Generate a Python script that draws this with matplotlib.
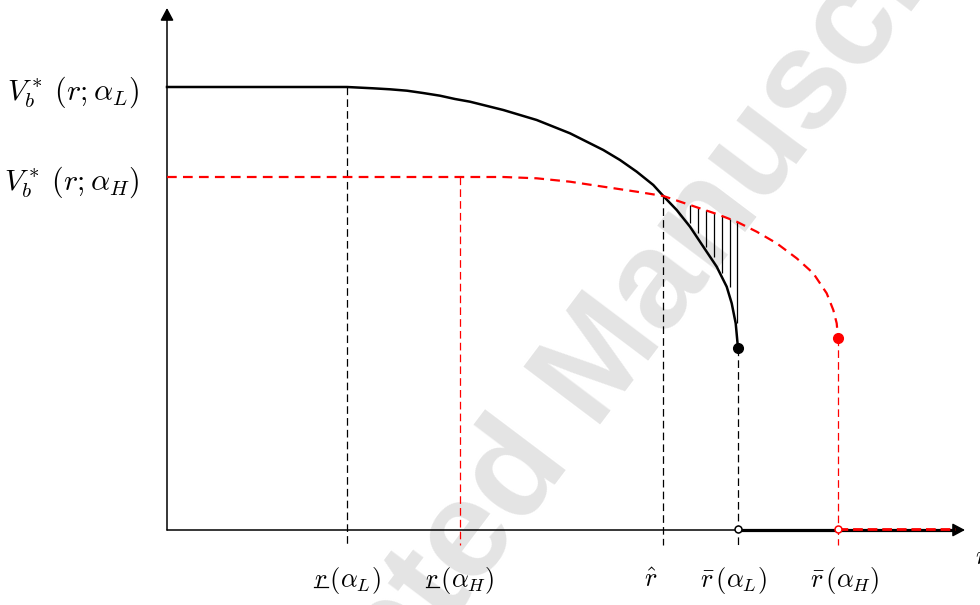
import matplotlib
matplotlib.use("Agg")
import matplotlib.pyplot as plt
from matplotlib.lines import Line2D
import numpy as np

plt.rcParams['mathtext.fontset'] = 'cm'
plt.rcParams['lines.scale_dashes'] = False

# ---- data ----
# V_b^*(r; alpha_L): solid black curve
low_x = [0.00, 1.80, 2.06, 2.23, 2.40, 2.56, 2.73, 2.88, 3.03, 3.363, 3.697, 4.03,
         4.363, 4.53, 4.697, 4.863, 4.963, 5.097, 5.23, 5.363, 5.497, 5.597, 5.647,
         5.687, 5.707, 5.71]
low_y = [4.43, 4.43, 4.417, 4.407, 4.393, 4.37, 4.343, 4.31, 4.283, 4.20, 4.10, 3.967,
         3.80, 3.70, 3.583, 3.45, 3.34, 3.20, 3.033, 2.833, 2.633, 2.433, 2.267,
         2.067, 1.85, 1.82]
# V_b^*(r; alpha_H): dashed red curve
high_x = [0.00, 2.93, 3.363, 3.697, 4.03, 4.363, 4.697, 4.963, 5.23, 5.497, 5.697,
          5.897, 6.097, 6.297, 6.463, 6.597, 6.663, 6.697, 6.71]
high_y = [3.53, 3.53, 3.53, 3.517, 3.483, 3.433, 3.383, 3.34, 3.25, 3.16, 3.083,
          2.983, 2.867, 2.717, 2.567, 2.367, 2.20, 2.067, 1.92]

r_low_L = 1.80
r_low_H = 2.93
r_hat = 4.963
r_bar_L = 5.71
r_bar_H = 6.71
V_L = 4.43
V_H = 3.53
V_cross = 3.34
V_end_L = 1.82
V_end_H = 1.92
x_axis_end = 7.98
y_axis_end = 5.22

hatch_x = [5.23, 5.307, 5.387, 5.467, 5.547, 5.627, 5.697]
hatch_bottom = [3.067, 2.967, 2.833, 2.733, 2.567, 2.433, 2.07]

tick_labels = [r'$r\,(\alpha_L)$', r'$r\,(\alpha_H)$',
               r'$\hat{r}$', r'$\bar{r}\,(\alpha_L)$', r'$\bar{r}\,(\alpha_H)$']
tick_underlined = [True, True, False, False, False]
tick_pos = [r_low_L, r_low_H, r_hat, r_bar_L, r_bar_H]
tick_offsets = [0, 0, -9.4, -3.6, 5]
y_labels = [r'$V_b^*\;(r;\alpha_L)$', r'$V_b^*\;(r;\alpha_H)$']
y_pos = [V_L, V_H]

# ---- figure ----
fig = plt.figure(figsize=(9.8, 6.05), dpi=100)
ax = fig.add_axes([0, 0, 1, 1])
ax.set_xlim(-1.67, 8.13)
ax.set_ylim(-0.75, 5.30)
ax.axis('off')

# watermark (behind everything)
ax.text(0.602, 0.373, 'Accepted Manuscript', transform=fig.transFigure,
        fontsize=100, family='Liberation Sans', weight='bold',
        color='#e4e4e4', rotation=53, rotation_mode='anchor',
        ha='center', va='center', zorder=0)

# axes with arrows
arrow_style = '-|>,head_length=0.75,head_width=0.4'
ax.annotate('', xy=(0, y_axis_end), xytext=(0, 0),
            arrowprops=dict(arrowstyle=arrow_style, lw=1.1, color='black',
                            shrinkA=0, shrinkB=0))
ax.annotate('', xy=(x_axis_end, 0), xytext=(0, 0),
            arrowprops=dict(arrowstyle=arrow_style, lw=1.1, color='black',
                            shrinkA=0, shrinkB=0))
ax.plot([r_bar_L, x_axis_end - 0.1], [0, 0], color='black', lw=2.3, zorder=3)
ax.plot([r_bar_H, x_axis_end - 0.1], [0.015, 0.015], color='red', lw=2.0,
        ls=(0, (7, 3.5)), zorder=4)

# vertical guides
vb = -0.15
dash_thin = (0, (5.5, 3))
ax.plot([r_low_L, r_low_L], [V_L, vb], color='black', lw=0.9, ls=dash_thin)
ax.plot([r_hat, r_hat], [V_cross, vb], color='black', lw=0.9, ls=dash_thin)
ax.plot([r_bar_L, r_bar_L], [V_end_L, vb], color='black', lw=0.9, ls=dash_thin)
ax.plot([r_low_H, r_low_H], [V_H, vb], color='red', lw=0.9, ls=dash_thin)
ax.plot([r_bar_H, r_bar_H], [V_end_H, vb], color='red', lw=0.9, ls=dash_thin)

# curves
ax.plot(low_x, low_y, color='black', lw=1.8, zorder=5, solid_joinstyle='round')
ax.plot(high_x, high_y, color='red', lw=1.6, ls=(0, (7, 4.5)), zorder=5)

# hatching
hx = np.array(hatch_x)
tops = np.interp(hx, high_x, high_y)
ax.vlines(hx, hatch_bottom, tops, color='black', lw=0.9, zorder=4)

# end points
ax.plot([r_bar_L], [V_end_L], 'o', color='black', ms=7, zorder=6)
ax.plot([r_bar_H], [V_end_H], 'o', color='red', ms=7, zorder=6)
ax.plot([r_bar_L], [0.015], 'o', mfc='white', mec='black', ms=5, mew=1.1, zorder=6)
ax.plot([r_bar_H], [0.015], 'o', mfc='white', mec='red', ms=5, mew=1.1, zorder=6)

# labels
fig.canvas.draw()
renderer = fig.canvas.get_renderer()
for lab, x, dx, ul in zip(tick_labels, tick_pos, tick_offsets, tick_underlined):
    t = ax.annotate(lab, xy=(x, -0.50), xytext=(dx, 0), textcoords='offset points',
                    ha='center', va='center', fontsize=19)
    if ul:
        bb = t.get_window_extent(renderer)
        tr = ax.text(0, 0, r'$r$', fontsize=19)
        rw = tr.get_window_extent(renderer).width
        tr.remove()
        yline = bb.y0 + 0.28 * bb.height
        fig.add_artist(Line2D([bb.x0 + 0.5, bb.x0 + rw + 0.5], [yline, yline],
                              transform=None, color='black', lw=0.9))
for lab, y in zip(y_labels, y_pos):
    ax.annotate(lab, xy=(0, y), xytext=(-20, -4), textcoords='offset points',
                ha='right', va='center', fontsize=21.5)
ax.text(x_axis_end + 0.10, -0.27, r'$r$', ha='left', va='center', fontsize=19)

fig.savefig('out.png', dpi=100)
